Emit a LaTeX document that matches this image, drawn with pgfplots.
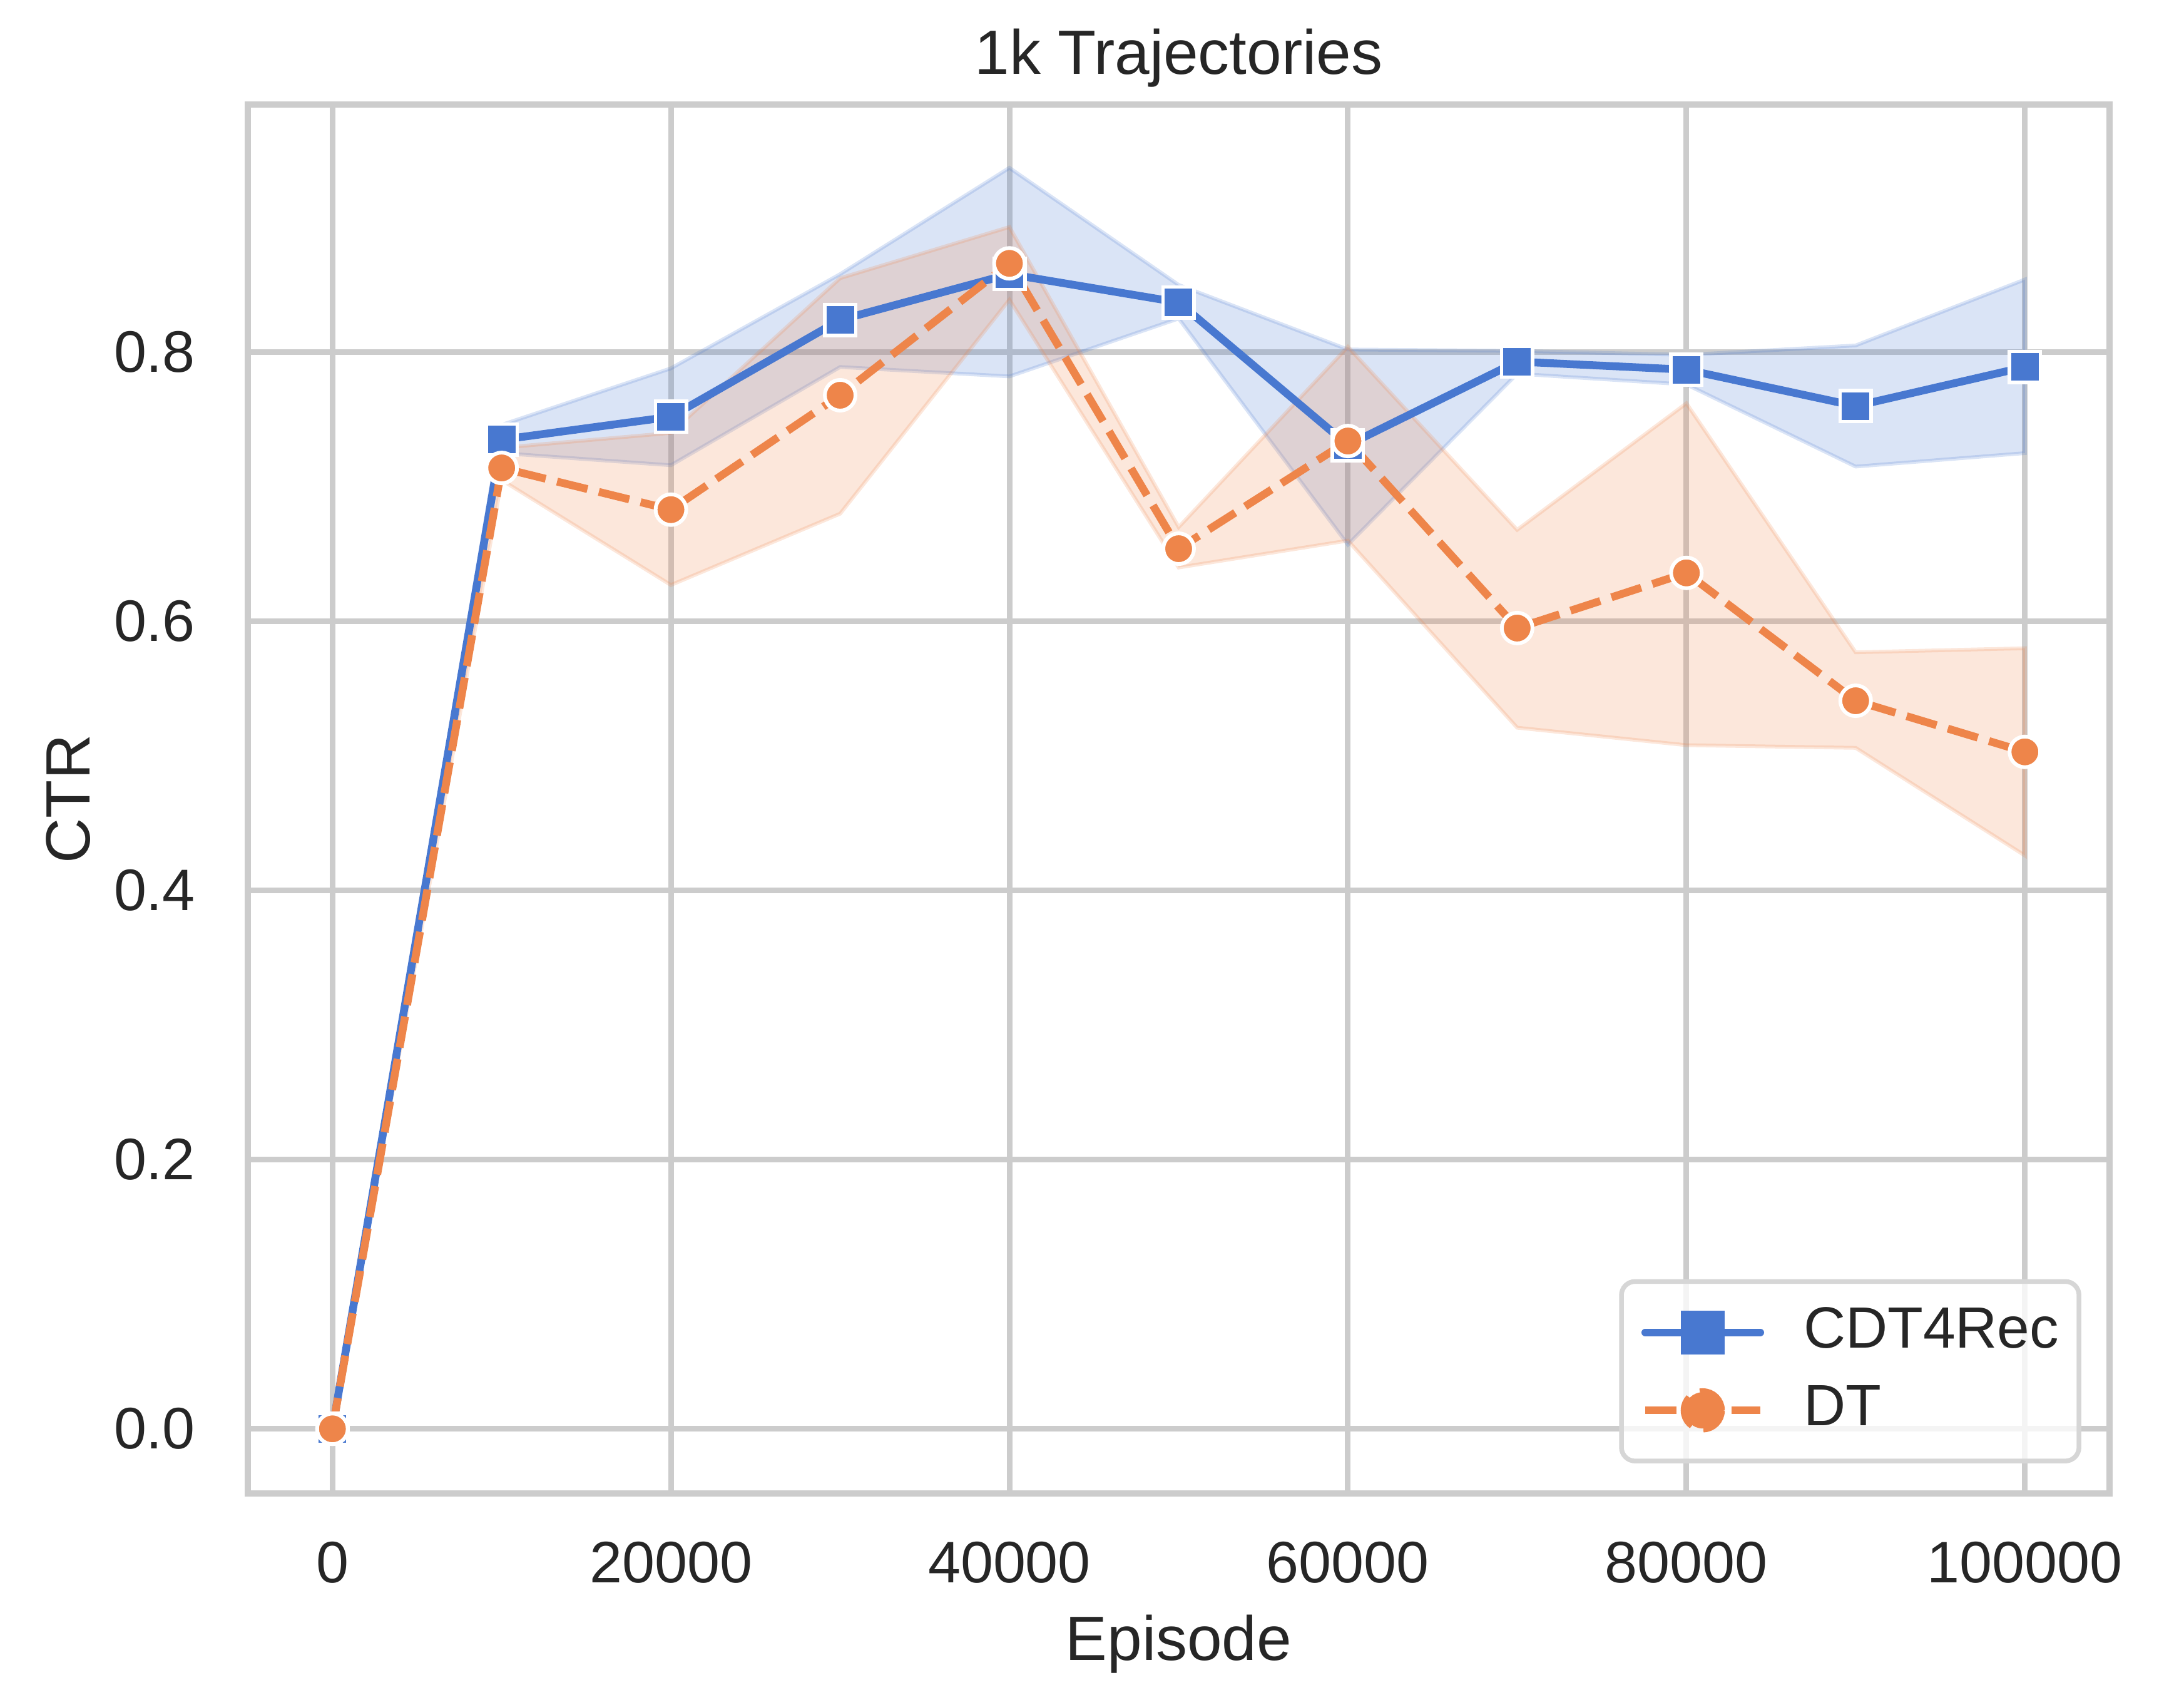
\documentclass[border=0pt]{standalone}
\usepackage{pgfplots}
\pgfplotsset{compat=1.18}
\usepackage{fontspec}
\setmainfont{Liberation Sans}
\definecolor{sbblue}{HTML}{4878D0}
\definecolor{sborange}{HTML}{EE854A}
\definecolor{gridc}{HTML}{CCCCCC}
\definecolor{legc}{HTML}{D6D6D6}
\definecolor{txt}{HTML}{262626}
\begin{document}
\begin{tikzpicture}
\begin{axis}[
  at={(0,0)}, anchor=south west,
  scale only axis, width=297.5pt, height=221.9pt,
  xmin=-5000, xmax=105000, ymin=-0.048, ymax=0.984,
  xtick={0,20000,40000,60000,80000,100000},
  ytick={0,0.2,0.4,0.6,0.8},
  scaled x ticks=false, scaled y ticks=false,
  /pgf/number format/assume math mode=true,
  xticklabel style={/pgf/number format/fixed, /pgf/number format/precision=0, /pgf/number format/1000 sep={}, anchor=center, inner sep=0pt, yshift=-11.0pt},
  yticklabel style={/pgf/number format/fixed, /pgf/number format/fixed zerofill, /pgf/number format/precision=1, anchor=east, inner sep=0pt, xshift=-8.2pt},
  tick label style={font=\fontsize{9.35}{10}\selectfont, text=txt},
  major tick length=0pt,
  grid=major,
  major grid style={gridc, line width=0.9pt},
  axis line style={gridc, line width=1.05pt},
  every axis title shift=0pt,
  title={1k Trajectories},
  title style={at={(axis description cs:0.5,1.022)}, anchor=base, font=\fontsize{10}{11}\selectfont, text=txt, inner sep=0pt},
  xlabel={Episode},
  xlabel style={at={(axis description cs:0.5,-0.1203)}, anchor=base, font=\fontsize{10}{11}\selectfont, text=txt, inner sep=0pt},
  ylabel={CTR},
  ylabel style={at={(axis description cs:-0.085,0.5)}, anchor=base, font=\fontsize{10}{11}\selectfont, text=txt, inner sep=0pt},
  legend cell align=left,
  legend style={at={(1,0)}, anchor=south east, xshift=-4.5pt, yshift=4.8pt,
    draw=legc, line width=0.75pt, rounded corners=2.2pt, fill=white, fill opacity=0.8, text opacity=1,
    inner xsep=3.2pt, inner ysep=4.15pt, row sep=4.5pt, column sep=6.3pt,
    nodes={inner sep=0pt}, font=\fontsize{9.3}{10}\selectfont, text=txt},
]
% CDT4Rec band
\addplot[forget plot, fill=sbblue, fill opacity=0.2, draw=sbblue, draw opacity=0.2, line width=0.6pt] coordinates {
 (0,0) (10000,0.746) (20000,0.788) (30000,0.858) (40000,0.937) (50000,0.850) (60000,0.802) (70000,0.801) (80000,0.798) (90000,0.805) (100000,0.854)
 (100000,0.725) (90000,0.715) (80000,0.776) (70000,0.784) (60000,0.657) (50000,0.825) (40000,0.782) (30000,0.789) (20000,0.716) (10000,0.725) (0,0)};
% DT band
\addplot[forget plot, fill=sborange, fill opacity=0.2, draw=sborange, draw opacity=0.2, line width=0.6pt] coordinates {
 (0,0) (10000,0.729) (20000,0.740) (30000,0.855) (40000,0.893) (50000,0.670) (60000,0.804) (70000,0.668) (80000,0.762) (90000,0.577) (100000,0.580)
 (100000,0.426) (90000,0.506) (80000,0.508) (70000,0.521) (60000,0.660) (50000,0.640) (40000,0.839) (30000,0.680) (20000,0.627) (10000,0.705) (0,0)};
% CDT4Rec
\addplot[sbblue, line width=1.25pt, mark=square*, mark size=2.475pt,
  mark options={solid, fill=sbblue, draw=white, line width=0.55pt},
  legend image code/.code={
    \begin{scope}[opacity=1]
    \draw[sbblue, line width=1.2pt, line cap=round] (0pt,0pt) -- (18.4pt,0pt);
    \draw[mark=square*, mark size=2.9pt, mark options={fill=sbblue, draw=none}] plot coordinates {(9.2pt,0pt)};
    \end{scope}
  }] coordinates {
 (0,0) (10000,0.735) (20000,0.752) (30000,0.824) (40000,0.858) (50000,0.837) (60000,0.731) (70000,0.793) (80000,0.787) (90000,0.760) (100000,0.789)};
\addlegendentry{CDT4Rec}
% DT
\addplot[sborange, line width=1.25pt, dash pattern=on 5pt off 1.875pt, mark=*, mark size=2.45pt,
  mark options={solid, fill=sborange, draw=white, line width=0.6pt},
  legend image code/.code={
    \begin{scope}[opacity=1]
    \draw[sborange, line width=1.2pt, dash pattern=on 5pt off 8.8pt on 4.6pt] (0pt,0pt) -- (18.4pt,0pt);
    \draw[mark=*, mark size=2.9pt, mark options={fill=sborange, draw=none}] plot coordinates {(9.2pt,0pt)};
    \end{scope}
  }] coordinates {
 (0,0) (10000,0.714) (20000,0.683) (30000,0.768) (40000,0.866) (50000,0.654) (60000,0.734) (70000,0.595) (80000,0.636) (90000,0.541) (100000,0.503)};
\addlegendentry{DT}
\end{axis}
\pgfresetboundingbox
\path[use as bounding box] (-39.6pt,-31.4pt) rectangle (309.4pt,238.6pt);
\end{tikzpicture}
\end{document}
